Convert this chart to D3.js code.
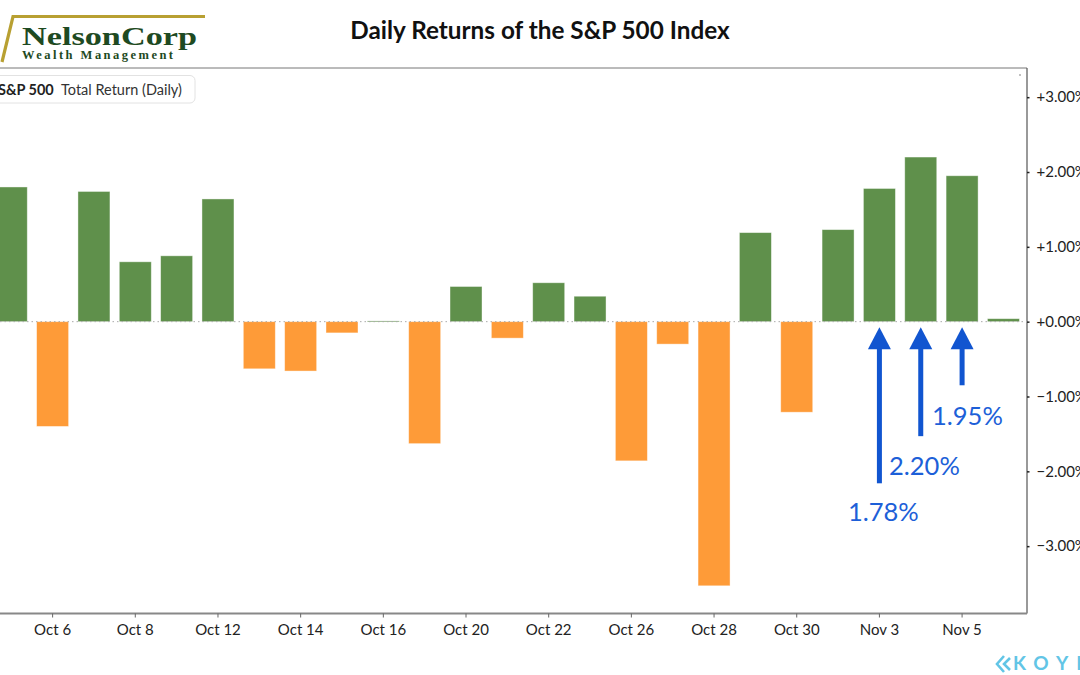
<!DOCTYPE html>
<html>
<head>
<meta charset="utf-8">
<script src="https://cdnjs.cloudflare.com/ajax/libs/d3/7.8.5/d3.min.js"></script>
<style>
  html, body { margin: 0; padding: 0; background: #fff; }
  svg { display: block; font-family: Lato, "Open Sans", sans-serif; }
</style>
</head>
<body>
<svg id="chart" width="1080" height="675"></svg>
<script>
// ---- data ----
const dates = ["Oct 5","Oct 6","Oct 7","Oct 8","Oct 9","Oct 12","Oct 13","Oct 14","Oct 15","Oct 16",
  "Oct 19","Oct 20","Oct 21","Oct 22","Oct 23","Oct 26","Oct 27","Oct 28","Oct 29","Oct 30",
  "Nov 2","Nov 3","Nov 4","Nov 5","Nov 6"];
const returns = [1.80,-1.40,1.74,0.80,0.88,1.64,-0.63,-0.66,-0.15,0.01,
  -1.63,0.47,-0.22,0.52,0.34,-1.86,-0.30,-3.53,1.19,-1.21,
  1.23,1.78,2.20,1.95,0.04];
const xTickLabels = ["Oct 6","Oct 8","Oct 12","Oct 14","Oct 16","Oct 20","Oct 22","Oct 26","Oct 28","Oct 30","Nov 3","Nov 5"];
const yTicks = [-3,-2,-1,0,1,2,3];
const annotations = [
  {date:"Nov 3", label:"1.78%", tail:-2.16, text:-2.66},
  {date:"Nov 4", label:"2.20%", tail:-1.53, text:-2.05},
  {date:"Nov 5", label:"1.95%", tail:-0.85, text:-1.38}
];
const title = "Daily Returns of the S&P 500 Index";

// ---- layout ----
const svg = d3.select("#chart");
const plot = {left:-9.4, right:1027, top:68, bottom:613.5};

const x = d3.scaleBand().domain(dates).range([plot.left, 1024.1]).paddingInner(0.226).paddingOuter(0.113);
const y = d3.scaleLinear().domain([-3.9, 3.39]).range([plot.bottom, plot.top]);

const green = "#5f904b", orange = "#fe9b38", blue = "#1155d0", labelBlue = "#1d5fd8";

// title
svg.append("text").attr("x", 540).attr("y", 39).attr("text-anchor","middle")
  .attr("font-size", 24.3).attr("font-weight", 700).attr("fill","#111").text(title);

// logo
svg.append("path").attr("d","M2,62 L13,16.5 L205,16.5").attr("fill","none")
  .attr("stroke","#b8a032").attr("stroke-width",3.2);
svg.append("text").attr("x",22).attr("y",44.5).attr("font-family","'Liberation Serif','DejaVu Serif',serif")
  .attr("font-weight",700).attr("font-size",25).attr("fill","#1e4a22")
  .attr("textLength",175).attr("lengthAdjust","spacingAndGlyphs").text("NelsonCorp");
svg.append("text").attr("x",22).attr("y",58.5).attr("font-family","'Liberation Serif','DejaVu Serif',serif")
  .attr("font-weight",700).attr("font-size",12.5).attr("fill","#1e4a22")
  .attr("textLength",151).attr("lengthAdjust","spacing").text("Wealth Management");

// frame: top and right
svg.append("line").attr("x1",0).attr("x2",plot.right).attr("y1",plot.top).attr("y2",plot.top)
  .attr("stroke","#777").attr("stroke-width",1);
svg.append("line").attr("x1",plot.right).attr("x2",plot.right).attr("y1",plot.top).attr("y2",plot.bottom)
  .attr("stroke","#555").attr("stroke-width",1.2);
svg.append("circle").attr("cx",1020).attr("cy",75).attr("r",0.7).attr("fill","#555");

// legend
svg.append("rect").attr("x",-10).attr("y",75.5).attr("width",205).attr("height",27.5).attr("rx",5)
  .attr("fill","#fff").attr("stroke","#e2e2e2");
svg.append("text").attr("x",-2).attr("y",95).attr("font-size",14.5).attr("font-weight",700).attr("fill","#222").text("S&P 500");
svg.append("text").attr("x",61).attr("y",95).attr("font-size",14.5).attr("fill","#333").text("Total Return (Daily)");

// bars
svg.append("g").selectAll("rect").data(dates).join("rect")
  .attr("x", d => x(d))
  .attr("width", x.bandwidth())
  .attr("y", (d,i) => y(Math.max(0, returns[i])))
  .attr("height", (d,i) => Math.max(1, Math.abs(y(returns[i]) - y(0))))
  .attr("fill", (d,i) => returns[i] >= 0 ? green : orange)
  .attr("stroke", "rgba(255,255,255,0.5)").attr("stroke-width", 0.8);

// zero line
svg.append("line").attr("x1",0).attr("x2",plot.right).attr("y1",y(0)).attr("y2",y(0))
  .attr("stroke","#aaa").attr("stroke-width",1).attr("stroke-dasharray","1.5,3");

// y axis (right)
const yAxis = d3.axisRight(y).tickValues(yTicks).tickSize(2.5).tickPadding(7)
  .tickFormat(d => (d >= 0 ? "+" : "") + d3.format(".2f")(d) + "%");
const gy = svg.append("g").attr("transform",`translate(${plot.right},0)`).call(yAxis);
gy.select(".domain").remove();
gy.selectAll(".tick line").attr("stroke","#222").attr("stroke-width",1.5);
gy.selectAll(".tick text").attr("font-size",15).attr("fill","#222").attr("font-family","Lato, sans-serif");

// x axis (bottom)
const xAxis = d3.axisBottom(x).tickValues(xTickLabels).tickSize(4).tickPadding(7).tickSizeOuter(0);
const gx = svg.append("g").attr("transform",`translate(0,${plot.bottom})`).call(xAxis);
gx.select(".domain").attr("stroke","#888").attr("stroke-width",2).attr("d",`M0,0H${plot.right}`);
gx.selectAll(".tick line").attr("stroke","#666");
gx.selectAll(".tick text").attr("font-size",15).attr("fill","#222").attr("font-family","Lato, sans-serif");

// annotations
const ag = svg.append("g");
annotations.forEach(a => {
  const cx = x(a.date) + x.bandwidth()/2;
  const tip = y(0) + 5.5, base = tip + 22;
  ag.append("path").attr("d",`M${cx},${tip} L${cx+11.5},${base} L${cx-11.5},${base} Z`).attr("fill",blue);
  ag.append("rect").attr("x",cx-2.5).attr("y",base-1).attr("width",5).attr("height",y(a.tail)-base+1).attr("fill",blue);
});
svg.append("text").attr("x", x("Nov 3") + x.bandwidth()/2 + 4).attr("y", y(annotations[0].text)).attr("text-anchor","middle")
  .attr("font-size",25.5).attr("fill",labelBlue).text(annotations[0].label);
svg.append("text").attr("x", 889).attr("y", y(annotations[1].text)).attr("text-anchor","start")
  .attr("font-size",25.5).attr("fill",labelBlue).text(annotations[1].label);
svg.append("text").attr("x", 932).attr("y", y(annotations[2].text)).attr("text-anchor","start")
  .attr("font-size",25.5).attr("fill",labelBlue).text(annotations[2].label);

// koyfin watermark
const kg = svg.append("g").attr("fill","none").attr("stroke","#62c5e6").attr("stroke-width",2.6);
kg.append("path").attr("d","M1004,656 L997,664 L1004,672");
kg.append("path").attr("d","M1010,658 L1004,664 L1010,670");
svg.append("text").attr("x",1013).attr("y",670).attr("font-size",19).attr("font-weight",700)
  .attr("letter-spacing",8).attr("fill","#62c5e6").text("KOYFIN");
</script>
</body>
</html>
